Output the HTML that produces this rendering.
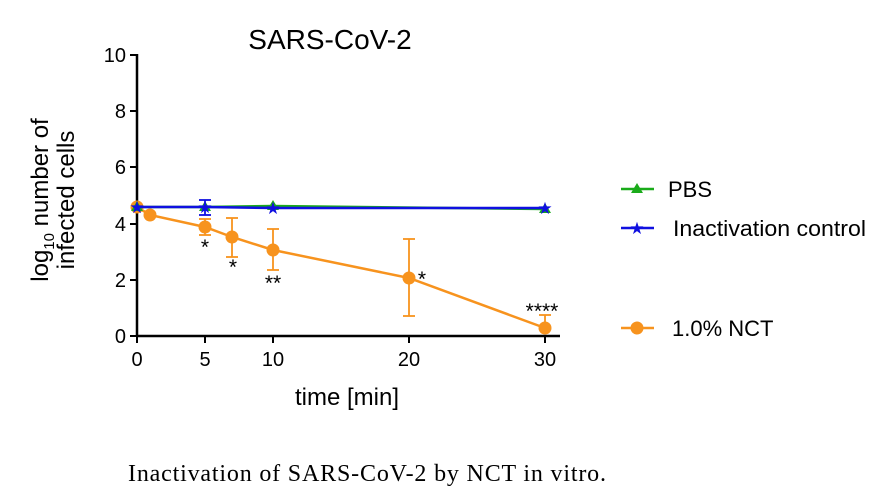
<!DOCTYPE html>
<html><head><style>body{margin:0;background:#fff}svg{display:block}</style></head><body>
<svg width="889" height="500" viewBox="0 0 889 500" xmlns="http://www.w3.org/2000/svg" font-family="Liberation Sans, Arial, sans-serif">
<rect width="889" height="500" fill="#fff"/>
<text x="330" y="49" font-size="28" text-anchor="middle">SARS-CoV-2</text>
<g stroke="#000" stroke-width="2.5" fill="none">
<line x1="137" y1="54" x2="137" y2="337"/>
<line x1="136" y1="336" x2="560" y2="336"/>
<g stroke-width="2"><line x1="130" y1="55" x2="137" y2="55"/><line x1="130" y1="111" x2="137" y2="111"/><line x1="130" y1="167" x2="137" y2="167"/><line x1="130" y1="224" x2="137" y2="224"/><line x1="130" y1="280" x2="137" y2="280"/><line x1="130" y1="336" x2="137" y2="336"/>
<line x1="137" y1="336" x2="137" y2="343"/><line x1="205" y1="336" x2="205" y2="343"/><line x1="273" y1="336" x2="273" y2="343"/><line x1="409" y1="336" x2="409" y2="343"/><line x1="545" y1="336" x2="545" y2="343"/></g>
</g>
<g font-size="20" text-anchor="end"><text x="126" y="62">10</text><text x="126" y="118">8</text><text x="126" y="174">6</text><text x="126" y="231">4</text><text x="126" y="287">2</text><text x="126" y="343">0</text></g>
<g font-size="20" text-anchor="middle"><text x="137" y="366">0</text><text x="205" y="366">5</text><text x="273" y="366">10</text><text x="409" y="366">20</text><text x="545" y="366">30</text></g>
<text x="347" y="405" font-size="24" text-anchor="middle">time [min]</text>
<g transform="rotate(-90)" font-size="24" text-anchor="middle"><text x="-200" y="48">log<tspan font-size="15" dy="6">10</tspan><tspan dy="-6"> number of</tspan></text><text x="-200" y="74">infected cells</text></g>
<g stroke="#f7931e" stroke-width="1.8">
<line x1="205" y1="235" x2="205" y2="219"/><line x1="199" y1="235" x2="211" y2="235"/><line x1="199" y1="219" x2="211" y2="219"/>
<line x1="232" y1="257" x2="232" y2="218"/><line x1="226" y1="257" x2="238" y2="257"/><line x1="226" y1="218" x2="238" y2="218"/>
<line x1="273" y1="270" x2="273" y2="229"/><line x1="267" y1="270" x2="279" y2="270"/><line x1="267" y1="229" x2="279" y2="229"/>
<line x1="409" y1="316" x2="409" y2="239"/><line x1="403" y1="316" x2="415" y2="316"/><line x1="403" y1="239" x2="415" y2="239"/>
<line x1="545" y1="315" x2="545" y2="328"/><line x1="539" y1="315" x2="551" y2="315"/>
</g>
<polyline points="137,207 150,215 205,227 232,237 273,250 409,278 545,328" fill="none" stroke="#f7931e" stroke-width="2.5"/>
<g fill="#f7931e"><circle cx="137" cy="207" r="6.5"/><circle cx="150" cy="215" r="6.5"/><circle cx="205" cy="227" r="6.5"/><circle cx="232" cy="237" r="6.5"/><circle cx="273" cy="250" r="6.5"/><circle cx="409" cy="278" r="6.5"/><circle cx="545" cy="328" r="6.5"/></g>
<polyline points="137,207 205,207 273,206 545,209" fill="none" stroke="#1aab1a" stroke-width="2.5"/>
<g fill="#1aab1a"><polygon points="137,201 143,211 131,211"/><polygon points="205,201 211,211 199,211"/><polygon points="273,200 279,210 267,210"/><polygon points="545,203 551,213 539,213"/></g>
<g stroke="#1010e0" stroke-width="1.8"><line x1="205" y1="200" x2="205" y2="215"/><line x1="199" y1="200" x2="211" y2="200"/><line x1="199" y1="215" x2="211" y2="215"/></g>
<polyline points="137,207 205,207 273,208 545,208" fill="none" stroke="#1010e0" stroke-width="2.5"/>
<g fill="#1010e0" font-size="17" text-anchor="middle"><text x="137" y="213">★</text><text x="205" y="213">★</text><text x="273" y="214">★</text><text x="545" y="214">★</text></g>
<g font-size="21" text-anchor="middle"><text x="205" y="254">*</text><text x="233" y="274">*</text><text x="273" y="290">**</text><text x="422" y="286">*</text><text x="542" y="318">****</text></g>
<line x1="621" y1="189" x2="654" y2="189" stroke="#1aab1a" stroke-width="2.5"/><polygon points="637,183 643,193 631,193" fill="#1aab1a"/>
<text x="668" y="197" font-size="22">PBS</text>
<line x1="621" y1="228" x2="654" y2="228" stroke="#1010e0" stroke-width="2.5"/><text x="637" y="234" fill="#1010e0" font-size="17" text-anchor="middle">★</text>
<text x="673" y="236" font-size="22" textLength="193" lengthAdjust="spacingAndGlyphs">Inactivation control</text>
<line x1="621" y1="328" x2="654" y2="328" stroke="#f7931e" stroke-width="2.5"/><circle cx="637" cy="328" r="6.5" fill="#f7931e"/>
<text x="672" y="336" font-size="22">1.0% NCT</text>
<text x="367" y="481" font-size="24" font-family="Liberation Serif, serif" text-anchor="middle" textLength="478" lengthAdjust="spacing">Inactivation of SARS-CoV-2 by NCT in vitro.</text>
</svg>
</body></html>
